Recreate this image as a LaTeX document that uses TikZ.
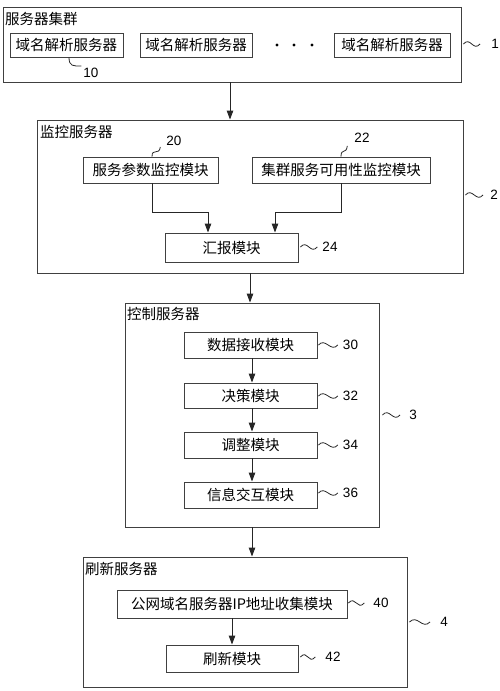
\documentclass[tikz,border=0pt]{standalone}
\usepackage{fontspec}
\setmainfont{Liberation Sans}
\newfontfamily\cjk{Noto Sans CJK SC}
\usetikzlibrary{arrows.meta,calc}
\tikzset{
  frame/.style={draw=black!75, line width=0.9pt, inner sep=0pt},
  box/.style={draw=black!75, line width=0.9pt, inner sep=0pt, font=\cjk\fontsize{14.5}{17}\selectfont},
  title/.style={anchor=north west, inner sep=0pt, font=\cjk\fontsize{14.5}{17}\selectfont},
  num/.style={inner sep=0pt, font=\fontsize{13.5}{15}\selectfont},
  lead/.style={draw=black!85, line width=0.8pt},
  arr/.style={draw=black!85, line width=1pt, -{Triangle[length=9pt,width=6.5pt]}},
}
\begin{document}
\begin{tikzpicture}[x=1pt,y=-1pt]
\useasboundingbox (0,0) rectangle (500,691);

% ---------- server cluster ----------
\node[frame, minimum width=458, minimum height=75] (box1) at (232,44.5) {};
\node[title] (t1) at (5,12) {服务器集群};
\node[box, minimum width=113, minimum height=24] (b10a) at (66.5,45) {域名解析服务器};
\node[box, minimum width=112, minimum height=24] (b10b) at (196,45) {域名解析服务器};
\node[box, minimum width=116, minimum height=24] (b10c) at (392,45) {域名解析服务器};
\foreach \xx in {277,294,312} \fill (\xx,45) circle (1.7);
\node[num] (l10) at (91,73) {10};
\node[num] (l1) at (495,44) {1};
\draw[lead] ($(b10a.south)+(2.5,0)$) .. controls +(0,9) and +(-8,0) .. ($(l10.north west)+(-2,-2)$);
\draw[lead] (box1.east |- l1) ++(2,0) .. controls +(7,-8) and +(-7,8) .. ($(l1.west)+(-11,0)$);

% ---------- monitoring server ----------
\node[frame, minimum width=426, minimum height=153] (box2) at (250,196.5) {};
\node[title] (t2) at (40,125) {监控服务器};
\node[box, minimum width=135, minimum height=26] (b20) at (150.5,170) {服务参数监控模块};
\node[box, minimum width=178, minimum height=26] (b22) at (341,170) {集群服务可用性监控模块};
\node[box, minimum width=133, minimum height=29] (b24) at (231.5,247.5) {汇报模块};
\node[num] (l20) at (174,141) {20};
\node[num] (l22) at (362,138) {22};
\node[num] (l24) at (330,247) {24};
\node[num] (l2) at (494,195) {2};
\draw[lead] ($(b20.north)+(1.5,0)$) .. controls +(0,-9) and +(-1,9) .. ($(l20.south west)+(-6,1)$);
\draw[lead] (b22.north) .. controls +(0,-9) and +(-1,9) .. ($(l22.south west)+(-7,3)$);
\draw[lead] (b24.east |- l24) ++(2,0) .. controls +(7,-8) and +(-7,8) .. ($(l24.west)+(-5,0)$);
\draw[lead] (box2.east |- l2) ++(2,0) .. controls +(7,-8) and +(-7,8) .. ($(l2.west)+(-7,0)$);
\coordinate (m1) at (208,212);
\coordinate (m2) at (275,212);
\draw[arr] ($(b20.south)+(1.5,0)$) |- (m1) -- (m1 |- b24.north);
\draw[arr] (b22.south) |- (m2) -- (m2 |- b24.north);
\coordinate (a1) at (230,100);
\draw[arr] (box1.south -| a1) -- (box2.north -| a1);

% ---------- control server ----------
\node[frame, minimum width=254, minimum height=224] (box3) at (252,415) {};
\node[title] (t3) at (127,307) {控制服务器};
\node[box, minimum width=133, minimum height=26] (b30) at (250.5,345) {数据接收模块};
\node[box, minimum width=133, minimum height=25] (b32) at (250.5,395.5) {决策模块};
\node[box, minimum width=133, minimum height=26] (b34) at (250.5,445) {调整模块};
\node[box, minimum width=133, minimum height=26] (b36) at (250.5,495) {信息交互模块};
\node[num] (l30) at (350.5,345) {30};
\node[num] (l32) at (350.5,396) {32};
\node[num] (l34) at (350.5,445) {34};
\node[num] (l36) at (350.5,493) {36};
\node[num] (l3) at (413,415) {3};
\foreach \b/\l in {b30/l30,b32/l32,b34/l34,b36/l36}
  \draw[lead] (\b.east |- \l) ++(1,0) .. controls +(7,-8) and +(-7,8) .. ($(\l.west)+(-5,0)$);
\draw[lead] (box3.east |- l3) ++(3,0) .. controls +(7,-8) and +(-7,8) .. ($(l3.west)+(-9,0)$);
\coordinate (a3) at (252,300);
\draw[arr] (b30.south -| a3) -- (b32.north -| a3);
\draw[arr] (b32.south -| a3) -- (b34.north -| a3);
\draw[arr] (b34.south -| a3) -- (b36.north -| a3);
\coordinate (a2) at (250,290);
\draw[arr] (box2.south -| a2) -- (box3.north -| a2);

% ---------- refresh server ----------
\node[frame, minimum width=324, minimum height=130] (box4) at (245,622) {};
\node[title] (t4) at (85,562) {刷新服务器};
\node[box, minimum width=230, minimum height=28] (b40) at (232,604) {公网域名服务器IP地址收集模块};
\node[box, minimum width=132, minimum height=27] (b42) at (232,658.5) {刷新模块};
\node[num] (l40) at (381,603) {40};
\node[num] (l42) at (333,657) {42};
\node[num] (l4) at (444,622) {4};
\draw[lead] (b40.east |- l40) ++(1,0) .. controls +(7,-8) and +(-7,8) .. ($(l40.west)+(-9,0)$);
\draw[lead] (b42.east |- l42) ++(2,0) .. controls +(7,-8) and +(-7,8) .. ($(l42.west)+(-10,0)$);
\draw[lead] (box4.east |- l4) ++(2,0) .. controls +(8,-8) and +(-8,8) .. ($(l4.west)+(-10,0)$);
\draw[arr] (b40) -- (b42);
\coordinate (a4) at (252,540);
\draw[arr] (box3.south -| a4) -- (box4.north -| a4);
\end{tikzpicture}
\end{document}
